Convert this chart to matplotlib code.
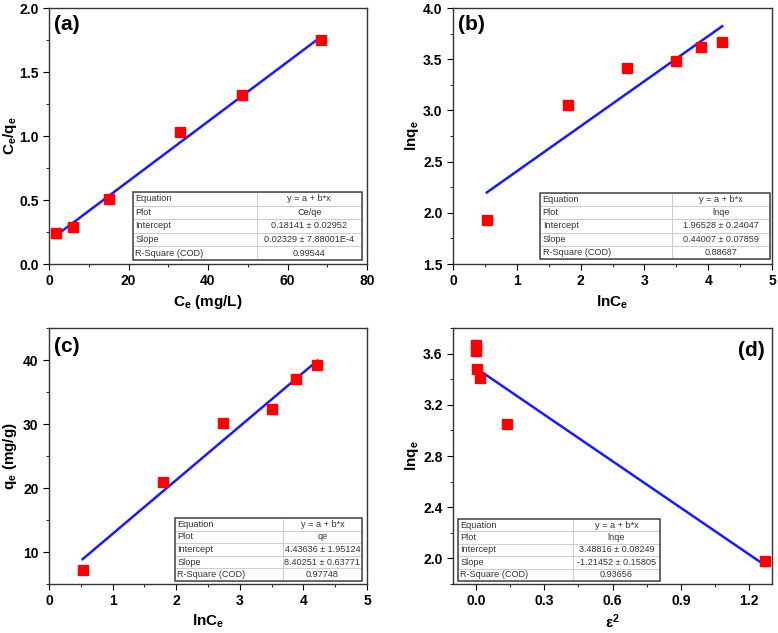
#!/usr/bin/env python3
"""Four-panel isotherm fits (Langmuir, Freundlich, Temkin, D-R) with fit tables."""
import matplotlib
matplotlib.use("Agg")
import matplotlib.pyplot as plt
from matplotlib.ticker import AutoMinorLocator, MultipleLocator

plt.rcParams.update({
    "font.family": ["Liberation Sans", "DejaVu Sans"],
    "mathtext.default": "regular",
    "axes.linewidth": 1.0,
    "axes.edgecolor": "#333333",
    "xtick.direction": "out",
    "ytick.direction": "out",
    "xtick.major.size": 4,
    "ytick.major.size": 4,
    "xtick.minor.size": 2.5,
    "ytick.minor.size": 2.5,
})

# (a) Langmuir
a_x = [1.7, 6.0, 15.0, 33.0, 48.5, 68.5]
a_y = [0.24, 0.29, 0.51, 1.03, 1.32, 1.75]
a_fit = (0.18141, 0.02329)
a_table = ["y = a + b*x", "Ce/qe", "0.18141 ± 0.02952", "0.02329 ± 7.88001E-4", "0.99544"]

# (b) Freundlich
b_x = [0.53, 1.80, 2.73, 3.50, 3.88, 4.22]
b_y = [1.93, 3.05, 3.41, 3.48, 3.62, 3.67]
b_fit = (1.96528, 0.44007)
b_table = ["y = a + b*x", "lnqe", "1.96528 ± 0.24047", "0.44007 ± 0.07859", "0.88687"]

# (c) Temkin
c_x = [0.53, 1.80, 2.73, 3.50, 3.88, 4.22]
c_y = [7.2, 21.0, 30.2, 32.3, 37.0, 39.2]
c_fit = (4.43636, 8.40251)
c_table = ["y = a + b*x", "qe", "4.43636 ± 1.95124", "8.40251 ± 0.63771", "0.97748"]

# (d) Dubinin-Radushkevich
d_x = [0.0, 0.0, 0.005, 0.02, 0.135, 1.27]
d_y = [3.67, 3.62, 3.48, 3.41, 3.05, 1.98]
d_fit = (3.48816, -1.21452)
d_table = ["y = a + b*x", "lnqe", "3.48816 ± 0.08249", "-1.21452 ± 0.15805", "0.93656"]

row_names = ["Equation", "Plot", "Intercept", "Slope", "R-Square (COD)"]


def fit_table(ax, values, bbox, split):
    cells = [[n, v] for n, v in zip(row_names, values)]
    tb = ax.table(cellText=cells, bbox=bbox, colWidths=[split, 1 - split])
    tb.auto_set_font_size(False)
    tb.set_fontsize(6.6)
    for (r, c), cell in tb.get_celld().items():
        cell.set_edgecolor("#c8c8c8")
        cell.set_linewidth(0.6)
        cell.set_facecolor("white")
        cell.get_text().set_color("#333333")
        if c == 0:
            cell.get_text().set_ha("left")
            cell.PAD = 0.02
        else:
            cell.get_text().set_ha("center")
    # dark outer frame
    x0, y0, w, h = bbox
    ax.add_patch(plt.Rectangle((x0, y0), w, h, transform=ax.transAxes, fill=False,
                               edgecolor="#444444", linewidth=1.1, zorder=10))
    return tb


def panel(ax, x, y, fit, table, bbox, split, letter, letter_pos, letter_ha="left"):
    ax.plot(x, y, "s", color="red", ms=6.5, zorder=3)
    xs = [min(x), max(x)]
    ax.plot(xs, [fit[0] + fit[1] * v for v in xs], color="#1a1aff", lw=1.8, zorder=2)
    fit_table(ax, table, bbox, split)
    ax.text(letter_pos[0], letter_pos[1], letter, transform=ax.transAxes,
            fontsize=15, fontweight="bold", ha=letter_ha, va="center")
    ax.xaxis.set_minor_locator(AutoMinorLocator(2))
    ax.yaxis.set_minor_locator(AutoMinorLocator(2))
    ax.tick_params(labelsize=10, top=False, right=False)
    for lab in ax.get_xticklabels() + ax.get_yticklabels():
        lab.set_fontweight("bold")


def labels(ax, xl, yl, xpos, ypos):
    ax.set_xlabel(xl, fontsize=11, fontweight="bold")
    ax.set_ylabel(yl, fontsize=11, fontweight="bold")
    ax.xaxis.set_label_coords(0.5, xpos)
    ax.yaxis.set_label_coords(ypos, 0.5)


fig = plt.figure(figsize=(7.78, 6.33), dpi=100)
W, H = 778, 633


def add_axes(l, r, t, b):
    return fig.add_axes([l / W, 1 - b / H, (r - l) / W, (b - t) / H])


ax_a = add_axes(49, 367, 8, 264)
ax_b = add_axes(453, 772, 8, 264)
ax_c = add_axes(49, 367, 328, 584)
ax_d = add_axes(453, 772, 328, 584)

ax_a.set_xlim(0, 80)
ax_a.set_ylim(0, 2.0)
ax_a.xaxis.set_major_locator(MultipleLocator(20))
ax_a.yaxis.set_major_locator(MultipleLocator(0.5))
ax_a.yaxis.set_major_formatter(plt.FormatStrFormatter("%.1f"))
panel(ax_a, a_x, a_y, a_fit, a_table, [0.264, 0.016, 0.72, 0.265], 0.54, "(a)", (0.015, 0.934))
labels(ax_a, "C$_e$ (mg/L)", "C$_e$/q$_e$", -0.115, -0.095)

ax_b.set_xlim(0, 5)
ax_b.set_ylim(1.5, 4.0)
ax_b.xaxis.set_major_locator(MultipleLocator(1))
ax_b.yaxis.set_major_locator(MultipleLocator(0.5))
ax_b.yaxis.set_major_formatter(plt.FormatStrFormatter("%.1f"))
panel(ax_b, b_x, b_y, b_fit, b_table, [0.273, 0.02, 0.721, 0.257], 0.574, "(b)", (0.016, 0.934))
labels(ax_b, "lnC$_e$", "lnq$_e$", -0.115, -0.1)

ax_c.set_xlim(0, 5)
ax_c.set_ylim(5, 45)
ax_c.xaxis.set_major_locator(MultipleLocator(1))
ax_c.set_yticks([10, 20, 30, 40])
panel(ax_c, c_x, c_y, c_fit, c_table, [0.396, 0.012, 0.588, 0.246], 0.578, "(c)", (0.015, 0.926))
ax_c.yaxis.set_minor_locator(MultipleLocator(5))
labels(ax_c, "lnC$_e$", "q$_e$ (mg/g)", -0.11, -0.095)

ax_d.set_xlim(-0.1, 1.3)
ax_d.set_ylim(1.8, 3.8)
ax_d.set_xticks([0.0, 0.3, 0.6, 0.9, 1.2])
ax_d.set_yticks([2.0, 2.4, 2.8, 3.2, 3.6])
ax_d.xaxis.set_major_formatter(plt.FormatStrFormatter("%.1f"))
ax_d.yaxis.set_major_formatter(plt.FormatStrFormatter("%.1f"))
panel(ax_d, d_x, d_y, d_fit, d_table, [0.016, 0.012, 0.633, 0.242], 0.57, "(d)", (0.978, 0.914), "right")
labels(ax_d, "ε$^2$", "lnq$_e$", -0.11, -0.1)

fig.savefig("out.png", dpi=100)
